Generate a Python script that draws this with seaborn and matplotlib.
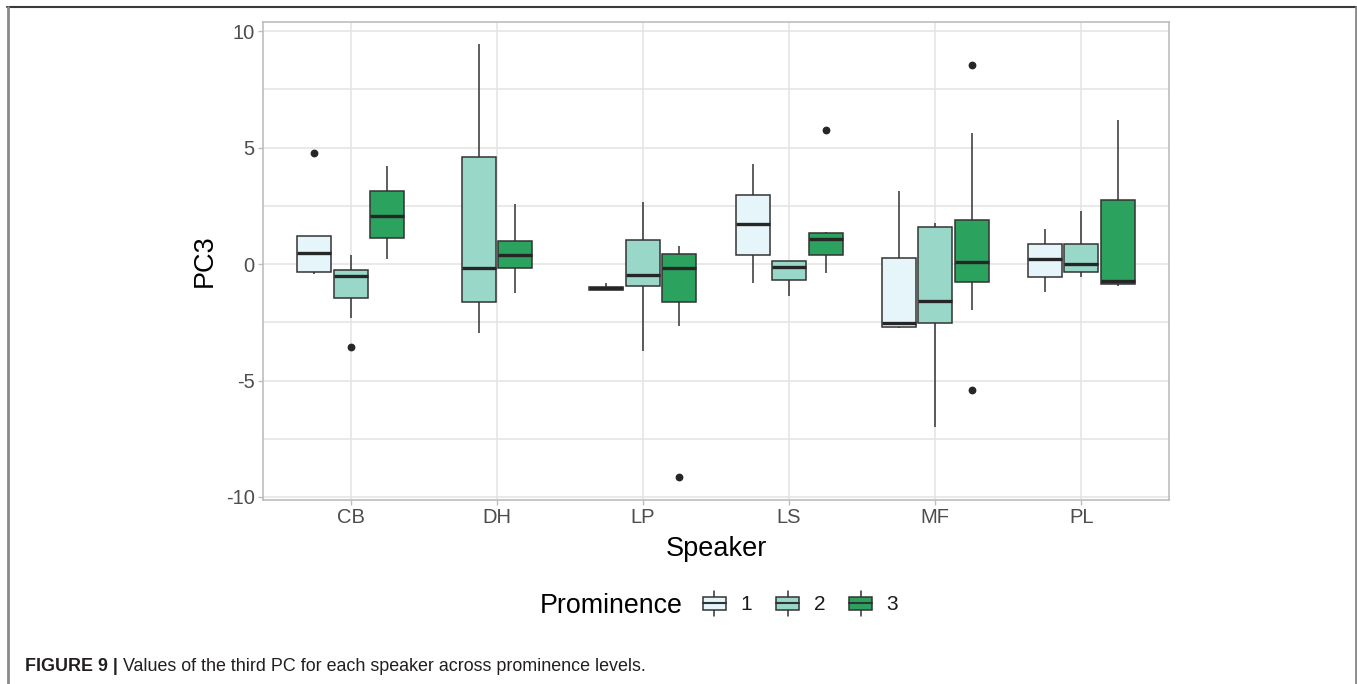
import numpy as np
import pandas as pd
import matplotlib
matplotlib.use("Agg")
import matplotlib.pyplot as plt
import seaborn as sns
from matplotlib.legend_handler import HandlerBase
from matplotlib.patches import Rectangle, Patch
from matplotlib.lines import Line2D

# ---- data: five-number summaries of PC3 per speaker and prominence level ----
speakers = ["CB", "DH", "LP", "LS", "MF", "PL"]
levels = ["1", "2", "3"]
palette = {"1": "#e5f5f9", "2": "#99d8c9", "3": "#2ca25f"}

# prominence 1 (no tokens for DH)
whislo_1 = [-0.43, None, -1.10, -0.80, -2.76, -1.19]
q1_1 = [-0.33, None, -1.10, 0.40, -2.69, -0.54]
med_1 = [0.49, None, -1.04, 1.73, -2.55, 0.21]
q3_1 = [1.20, None, -0.98, 2.95, 0.24, 0.86]
whishi_1 = [1.20, None, -0.82, 4.28, 3.13, 1.50]
out_1 = [[4.75], [], [], [], [], []]

# prominence 2
whislo_2 = [-2.33, -2.97, -3.72, -1.36, -6.98, -0.54]
q1_2 = [-1.45, -1.62, -0.94, -0.67, -2.52, -0.33]
med_2 = [-0.50, -0.18, -0.47, -0.11, -1.57, -0.01]
q3_2 = [-0.26, 4.58, 1.03, 0.13, 1.59, 0.86]
whishi_2 = [0.37, 9.44, 2.67, 0.13, 1.77, 2.29]
out_2 = [[-3.55], [], [], [], [], []]

# prominence 3
whislo_3 = [0.23, -1.26, -2.65, -0.40, -1.96, -0.94]
q1_3 = [1.13, -0.16, -1.62, 0.40, -0.79, -0.87]
med_3 = [2.06, 0.37, -0.18, 1.09, 0.10, -0.73]
q3_3 = [3.12, 0.97, 0.42, 1.32, 1.88, 2.73]
whishi_3 = [4.21, 2.58, 0.77, 1.39, 5.61, 6.17]
out_3 = [[], [], [-9.15], [5.76], [8.53, -5.39], []]

summaries = {
    "1": (whislo_1, q1_1, med_1, q3_1, whishi_1, out_1),
    "2": (whislo_2, q1_2, med_2, q3_2, whishi_2, out_2),
    "3": (whislo_3, q1_3, med_3, q3_3, whishi_3, out_3),
}


def box_sample(lo, q1, med, q3, hi, outliers):
    """Nine observations whose quartiles, whisker ends and outliers
    reproduce the given summary."""
    low = [v for v in outliers if v < med]
    high = [v for v in outliers if v > med]
    first = low[0] if low else lo
    last = high[0] if high else hi
    return [first, lo, q1, q1, med, q3, q3, hi, last]


rows = []
for si, spk in enumerate(speakers):
    present = [lv for lv in levels if summaries[lv][2][si] is not None]
    k = len(present)
    for j, lv in enumerate(present):
        offset = (j - (k - 1) / 2) * 0.25
        lo, q1, med, q3, hi, outs = (a[si] for a in summaries[lv])
        for v in box_sample(lo, q1, med, q3, hi, outs):
            rows.append({"pos": si + offset, "PC3": v, "Prominence": lv})
df = pd.DataFrame(rows)

# ---- styling ----
sns.set_theme(style="whitegrid")
plt.rcParams["font.family"] = ["Liberation Sans", "DejaVu Sans"]
plt.rcParams["axes.unicode_minus"] = False

W, H = 1357, 684
fig = plt.figure(figsize=(W / 100, H / 100), dpi=100)
fig.patch.set_facecolor("white")
ax = fig.add_axes([263 / W, 1 - 500 / H, (1169 - 263) / W, (500 - 22) / H])
ax.set_facecolor("white")

edge = "#333333"
sns.boxplot(
    data=df, x="pos", y="PC3", hue="Prominence", hue_order=levels,
    palette=palette, native_scale=True, dodge=False, width=0.93,
    saturation=1, linecolor=edge, linewidth=1.1, whis=1.5,
    fliersize=4.6,
    flierprops=dict(marker="o", markerfacecolor="#262626",
                    markeredgecolor="#262626"),
    medianprops=dict(linewidth=2.4, color="#262626"),
    capprops=dict(linewidth=0),
    legend=False, ax=ax,
)

ax.set_xlim(-0.6, 5.6)
ax.set_ylim(-10.13, 10.39)
ax.set_xticks(range(len(speakers)))
ax.set_xticklabels(speakers)
ax.set_yticks([-10, -5, 0, 5, 10])
ax.set_yticklabels(["-10", "-5", "0", "5", "10"])
ax.set_yticks([-7.5, -2.5, 2.5, 7.5], minor=True)

ax.set_axisbelow(True)
ax.grid(True, which="major", axis="both", color="#e3e3e3", linewidth=1.1)
ax.grid(True, which="minor", axis="y", color="#e3e3e3", linewidth=1.1)
for sp in ax.spines.values():
    sp.set_visible(True)
    sp.set_color("#bdbdbd")
    sp.set_linewidth(1.2)

ax.tick_params(axis="both", which="major", length=3.6, width=1.0,
               color="#bdbdbd", labelcolor="#4d4d4d", labelsize=14.5,
               bottom=True, left=True, pad=2.5)
ax.tick_params(which="minor", length=0)

ax.set_xlabel("Speaker", fontsize=19.5, color="black")
ax.set_ylabel("PC3", fontsize=19.5, color="black")
ax.xaxis.set_label_coords(0.5, -0.075)
ax.yaxis.set_label_coords(-0.0495, 0.5)


# ---- legend with small boxplot keys ----
class BoxKey(HandlerBase):
    def create_artists(self, legend, orig_handle, xdescent, ydescent,
                       width, height, fontsize, trans):
        x0, y0 = -xdescent, -ydescent
        bh = height * 0.95
        yc = y0 + height / 2
        xc = x0 + width / 2
        ext = height * 0.45
        rect = Rectangle((x0, yc - bh / 2), width, bh,
                         facecolor=orig_handle.get_facecolor(),
                         edgecolor=edge, linewidth=1.1, transform=trans)
        med = Line2D([x0, x0 + width], [yc, yc], color=edge,
                     linewidth=1.5, transform=trans)
        top = Line2D([xc, xc], [yc + bh / 2, yc + bh / 2 + ext],
                     color=edge, linewidth=1.1, transform=trans)
        bot = Line2D([xc, xc], [yc - bh / 2, yc - bh / 2 - ext],
                     color=edge, linewidth=1.1, transform=trans)
        return [top, bot, rect, med]


handles = [Patch(facecolor=palette[lv]) for lv in levels]
fig.text(540 / W, 1 - 606 / H, "Prominence", fontsize=19.3, color="black",
         ha="left", va="center")
fig.legend(handles, levels, handler_map={Patch: BoxKey()},
           loc="center left", bbox_to_anchor=(703 / W, 1 - 605 / H),
           ncol=3, frameon=False, fontsize=15, handlelength=1.1,
           handleheight=0.62, handletextpad=0.7, columnspacing=1.15,
           borderpad=0, borderaxespad=0, labelcolor="#1a1a1a")

# ---- caption ----
cap_font = ["Liberation Sans Narrow", "Liberation Sans", "DejaVu Sans"]
t1 = fig.text(25 / W, 1 - 671 / H, "FIGURE 9 |", fontsize=12.9,
              fontweight="bold", family=cap_font, color="#231f20",
              ha="left", va="baseline")
ax.annotate("Values of the third PC for each speaker across prominence levels.",
            xy=(1, 0), xycoords=t1, xytext=(3.5, 0),
            textcoords="offset points", fontsize=12.9, family=cap_font,
            color="#231f20", ha="left", va="bottom", annotation_clip=False)

# ---- outer frame ----
frame_kw = dict(transform=fig.transFigure, clip_on=False)
fig.add_artist(Line2D([7 / W, 1356 / W], [1 - 6.5 / H, 1 - 6.5 / H],
                      color="#3a3a3a", linewidth=1.5, **frame_kw))
fig.add_artist(Line2D([8 / W, 8 / W], [0, 1 - 6.5 / H],
                      color="#8a8a8a", linewidth=2.0, **frame_kw))
fig.add_artist(Line2D([1355.5 / W, 1355.5 / W], [0, 1 - 6.5 / H],
                      color="#8a8a8a", linewidth=2.0, **frame_kw))

fig.savefig("out.png", dpi=100, facecolor="white")
